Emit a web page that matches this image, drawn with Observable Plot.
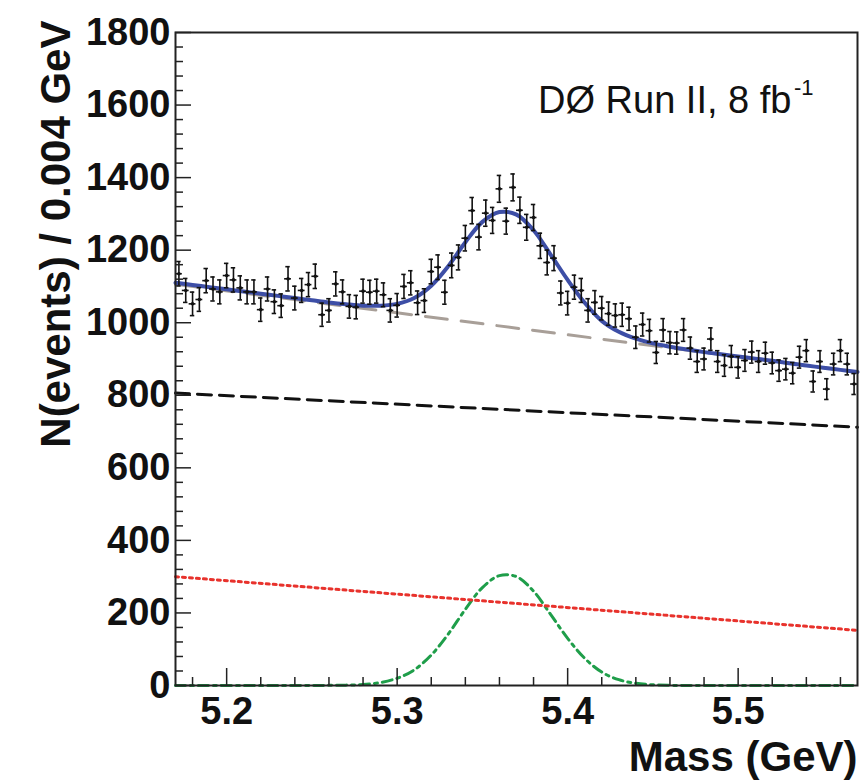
<!DOCTYPE html>
<html>
<head>
<meta charset="utf-8">
<script src="https://cdn.jsdelivr.net/npm/d3@7"></script>
<script src="https://cdn.jsdelivr.net/npm/@observablehq/plot@0.6"></script>
<style>
  html, body { margin: 0; padding: 0; background: #fff; }
  #chart svg { display: block; }
</style>
</head>
<body>
<div id="chart"></div>
<script>
// ---- binning of the histogram (x categories) ----
const binLo = 5.17;
const binWidth = 0.004;

// ---- events per bin ----
const counts = [
  1135, 1089, 1052, 1064, 1116, 1093, 1085, 1130, 1118, 1096,
  1085, 1085, 1036, 1093, 1058, 1047, 1121, 1068, 1089, 1105,
  1128, 1022, 1034, 1107, 1085, 1045, 1043, 1087, 1084, 1087,
  1077, 1034, 1048, 1100, 1110, 1055, 1061, 1141, 1153, 1084,
  1158, 1180, 1233, 1309, 1236, 1302, 1282, 1369, 1280, 1373,
  1310, 1263, 1290, 1212, 1166, 1178, 1082, 1054, 1098, 1089,
  1034, 1056, 1040, 1025, 1020, 1022, 1011, 960, 995, 978,
  918, 980, 945, 944, 980, 930, 893, 900, 955, 893,
  882, 907, 877, 896, 919, 893, 916, 889, 868, 872,
  861, 905, 923, 838, 893, 817, 886, 923, 886, 831
];

// ---- fitted curves ----
const fitMass = [5.17,5.18,5.19,5.20,5.21,5.22,5.23,5.24,5.25,5.26,5.27,5.28,5.29,5.30,5.31,5.32,5.33,5.34,5.35,5.36,
                 5.37,5.38,5.39,5.40,5.41,5.42,5.43,5.44,5.45,5.46,5.47,5.48,5.49,5.50,5.51,5.52,5.53,5.54,5.55,5.56,5.57];
const fitTotal = [1110,1104,1098,1092,1086,1080,1074,1068,1062,1056,1051,1047,1047,1052,1068,1102,1156,1222,1278,1305,
                  1298,1255,1188,1118,1055,1005,975,956,943,934,926,919,913,907,901,895,888,882,876,870,864];

const bkgMass = [5.17, 5.57];
const bkgTotal = [1106, 864];     // grey long dashes
const bkgFlat = [806, 712];       // black dashes
const bkgPartial = [300, 152];    // red dots

const sigMass = [5.17,5.25,5.26,5.27,5.28,5.29,5.30,5.31,5.32,5.33,5.34,5.35,5.36,5.37,5.38,5.39,5.40,5.41,5.42,5.43,5.44,5.45,5.46,5.47,5.57];
const sigVals = [0,0,0.5,1,3,8,20,43,84,142,210,270,303,300,260,196,130,75,37,16,6,2,0.5,0,0];

// ---- axis ticks ----
const xMajor = [5.2, 5.3, 5.4, 5.5];
const xMinor = [5.18,5.22,5.24,5.26,5.28,5.32,5.34,5.36,5.38,5.42,5.44,5.46,5.48,5.52,5.54,5.56];
const yMajor = [0, 200, 400, 600, 800, 1000, 1200, 1400, 1600, 1800];
const yMinor = [40,80,120,160,240,280,320,360,440,480,520,560,640,680,720,760,840,880,920,960,
                1040,1080,1120,1160,1240,1280,1320,1360,1440,1480,1520,1560,1640,1680,1720,1760];

const yTitle = "N(events) / 0.004 GeV";
const xTitle = "Mass (GeV)";
const tagMain = "DØ Run II, 8 fb";
const tagSup = "-1";

// ---- tables built from the arrays ----
const hist = counts.map((n, i) => ({m: binLo + binWidth * (i + 0.5), n, e: Math.sqrt(n)}));
const fit = fitMass.map((m, i) => ({m, v: fitTotal[i]}));
const bkg = bkgMass.map((m, i) => ({m, tot: bkgTotal[i], flat: bkgFlat[i], part: bkgPartial[i]}));
const sig = sigMass.map((m, i) => ({m, v: sigVals[i]}));

const W = 861, H = 781, ML = 175, MR = 4, MT = 32, MB = 96;
const frameW = W - ML - MR, frameH = H - MT - MB;
const font = "'Liberation Sans', Arial, Helvetica, sans-serif";
const halfBin = binWidth / 2;
const cap = 0.0013;
const ink = "#111";

const chart = Plot.plot({
  width: W,
  height: H,
  marginLeft: ML,
  marginRight: MR,
  marginTop: MT,
  marginBottom: MB,
  style: {fontFamily: font, color: ink, background: "#fff"},
  x: {domain: [5.17, 5.57], axis: null},
  y: {domain: [0, 1800], axis: null},
  marks: [
    // tick labels
    Plot.axisX(xMajor, {tickSize: 0, tickPadding: 12, fontSize: 38, fontWeight: "bold", tickFormat: d3.format(".1f"), label: null}),
    Plot.axisY(yMajor, {tickSize: 0, tickPadding: 5, fontSize: 38, fontWeight: "bold", tickFormat: d => String(d), label: null}),

    // curves
    Plot.line(sig, {x: "m", y: "v", stroke: "#1f9e4a", strokeWidth: 3, strokeDasharray: "10,5,3,5", curve: "catmull-rom"}),
    Plot.line(bkg, {x: "m", y: "part", stroke: "#e8322c", strokeWidth: 3, strokeDasharray: "3,4"}),
    Plot.line(bkg, {x: "m", y: "flat", stroke: ink, strokeWidth: 3, strokeDasharray: "14,8"}),
    Plot.line(bkg, {x: "m", y: "tot", stroke: "#a89f98", strokeWidth: 3, strokeDasharray: "22,14"}),
    Plot.line(fit, {x: "m", y: "v", stroke: "#3d4ea6", strokeWidth: 4, curve: "catmull-rom"}),

    // data points with error bars
    Plot.ruleX(hist, {x: "m", y1: d => d.n - d.e, y2: d => d.n + d.e, stroke: ink, strokeWidth: 1.6}),
    Plot.ruleY(hist, {y: d => d.n + d.e, x1: d => d.m - cap, x2: d => d.m + cap, stroke: ink, strokeWidth: 1.6}),
    Plot.ruleY(hist, {y: d => d.n - d.e, x1: d => d.m - cap, x2: d => d.m + cap, stroke: ink, strokeWidth: 1.6}),
    Plot.ruleY(hist, {y: "n", x1: d => d.m - halfBin, x2: d => d.m + halfBin, stroke: ink, strokeWidth: 1.6}),
    Plot.dot(hist, {x: "m", y: "n", r: 1.8, fill: ink}),

    // inward ticks (rules clipped to a short length by insets)
    Plot.ruleY(yMajor, {y: d => d, insetRight: frameW - 16, stroke: "#222", strokeWidth: 1.5}),
    Plot.ruleY(yMinor, {y: d => d, insetRight: frameW - 8, stroke: "#222", strokeWidth: 1.5}),
    Plot.ruleX(xMajor, {x: d => d, insetTop: frameH - 17, stroke: "#222", strokeWidth: 1.5}),
    Plot.ruleX(xMinor, {x: d => d, insetTop: frameH - 8, stroke: "#222", strokeWidth: 1.5}),

    Plot.frame({stroke: "#222", strokeWidth: 2}),

    // titles
    Plot.text([yTitle], {frameAnchor: "top-left", rotate: -90, textAnchor: "end", dx: -135, dy: -12, fontSize: 42, fontWeight: "bold", fill: ink}),
    Plot.text([xTitle], {frameAnchor: "bottom-right", textAnchor: "end", lineAnchor: "bottom", dy: 85, fontSize: 42, fontWeight: "bold", fill: ink}),

    // annotation
    Plot.text([tagMain], {frameAnchor: "top-right", textAnchor: "end", lineAnchor: "middle", dx: -66, dy: 68, fontSize: 38, fill: ink}),
    Plot.text([tagSup], {frameAnchor: "top-right", textAnchor: "end", lineAnchor: "middle", dx: -44, dy: 55, fontSize: 22, fill: ink})
  ]
});

document.getElementById("chart").appendChild(chart);
</script>
</body>
</html>
